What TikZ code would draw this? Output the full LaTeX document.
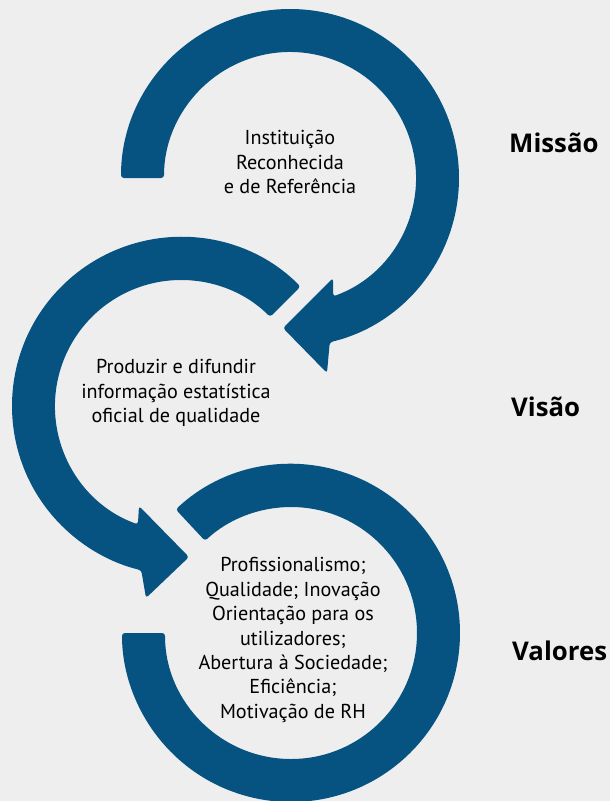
\documentclass[tikz,border=0pt]{standalone}
\usepackage{fontspec}
\setmainfont{PT Sans}
\newfontfamily\labelfont{Open Sans}
\usepackage{tikz}
\definecolor{bandblue}{RGB}{6,83,130}
\definecolor{backgr}{RGB}{238,238,238}
\tikzstyle{band}=[fill=bandblue,rounded corners=2.5pt]
\tikzstyle{ring text}=[align=center,font=\fontsize{17.2}{20.8}\selectfont,inner sep=0pt]
\tikzstyle{side label}=[anchor=west,inner sep=0pt,font=\labelfont\bfseries\fontsize{22}{26}\selectfont]

\begin{document}
\begin{tikzpicture}[x=0.03cm,y=0.03cm]
\fill[backgr] (0,0) rectangle (610,-801);
\useasboundingbox (0,0) rectangle (610,-801);

\begin{scope}[shift={(290,-178)}]
\fill[band] (180:169) arc[start angle=180,end angle=-76.4,radius=169] -- (37,-195) -- (-7,-150) -- (43,-100) -- (-70:126) arc[start angle=-70,end angle=180,radius=126] -- cycle;
\end{scope}

\begin{scope}[shift={(181,-406)}]
\fill[band] (45:169) arc[start angle=45,end angle=256.4,radius=169] -- (-35,-192) -- (8,-151) -- (-42,-100) -- (250:126) arc[start angle=250,end angle=45,radius=126] -- cycle;
\end{scope}

\begin{scope}[shift={(291,-633)}]
\fill[band] (133:169) arc[start angle=133,end angle=-180,radius=169] -- (180:126) arc[start angle=180,end angle=493,radius=126] -- cycle;
\end{scope}

\node[ring text] (missiontext) at (290,-162) {Instituição\\Reconhecida\\e de Referência};
\node[ring text] (visiontext) at (176,-393) {Produzir e difundir\\informação estatística\\oficial de qualidade};
\node[ring text] (valuestext) at (293,-640) {Profissionalismo;\\Qualidade; Inovação\\Orientação para os\\utilizadores;\\Abertura à Sociedade;\\Eficiência;\\Motivação de RH};

\node[side label] (missao) at (509,-143) {Missão};
\node[side label] (visao) at (511,-407) {Visão};
\node[side label] (valores) at (512,-651) {Valores};
\end{tikzpicture}
\end{document}
